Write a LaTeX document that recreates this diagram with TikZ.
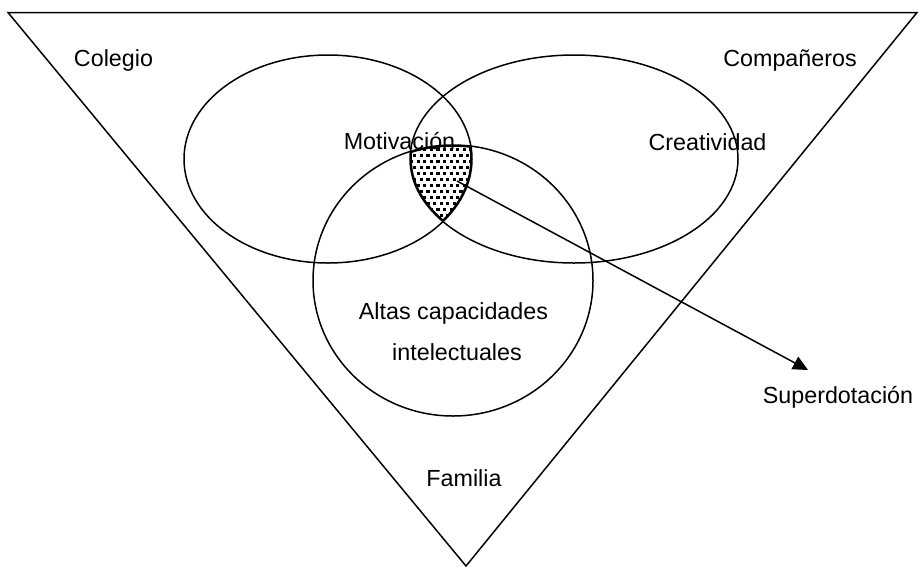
\documentclass[tikz,border=0pt]{standalone}
\usepackage{fontspec}
\setmainfont{Liberation Sans}
\usetikzlibrary{arrows.meta}
\tikzset{
  lbl/.style={font=\fontsize{23.3}{28}\selectfont, inner sep=0pt, anchor=base},
  ln/.style={line width=1.5pt, draw=black},
}
\begin{document}
\begin{tikzpicture}[x=1pt,y=-1pt]
\useasboundingbox (0,0) rectangle (920,568);
% triangle
\coordinate (tl) at (8,12.5);
\coordinate (tr) at (917,12.5);
\coordinate (bt) at (466,566);
\draw[ln, line join=miter] (tl) -- (tr) -- (bt) -- cycle;
% shaded triple intersection
\begin{scope}
  \clip (328,159) ellipse [x radius=144, y radius=104];
  \clip (574,159) ellipse [x radius=164, y radius=104];
  \clip (453,280.5) ellipse [x radius=140, y radius=135.5];
  \foreach \i in {0,...,13}{
    \foreach \j in {0,...,15}{
      \pgfmathsetmacro{\xx}{400+\i*6.6+mod(\j,2)*3.3}
      \pgfmathsetmacro{\yy}{142+\j*6}
      \fill (\xx,\yy) rectangle ++(3.2,3.2);
    }
  }
  \draw[line width=3.6pt] (328,159) ellipse [x radius=144, y radius=104];
  \draw[line width=3.6pt] (574,159) ellipse [x radius=164, y radius=104];
  \draw[line width=3.6pt] (453,280.5) ellipse [x radius=140, y radius=135.5];
\end{scope}
% sets
\draw[ln] (328,159) ellipse [x radius=144, y radius=104];
\draw[ln] (574,159) ellipse [x radius=164, y radius=104];
\draw[ln] (453,280.5) ellipse [x radius=140, y radius=135.5];
% labels
\node[lbl] (colegio) at (113.5,66.5) {Colegio};
\node[lbl] (companeros) at (790,66.5) {Compañeros};
\node[lbl] (motivacion) at (399.5,149) {Motivación};
\node[lbl] (creatividad) at (707.5,150) {Creatividad};
\node[lbl] (altas) at (453.5,319) {Altas capacidades};
\node[lbl] (intelectuales) at (457,360.5) {intelectuales};
\node[lbl] (superdotacion) at (838,403) {Superdotación};
\node[lbl] (familia) at (464,486.5) {Familia};
% arrow
\coordinate (ast) at (457,181);
\coordinate (aend) at (808,370);
\draw[ln, -{Triangle[length=15pt,width=14pt]}] (ast) -- (aend);
\end{tikzpicture}
\end{document}
